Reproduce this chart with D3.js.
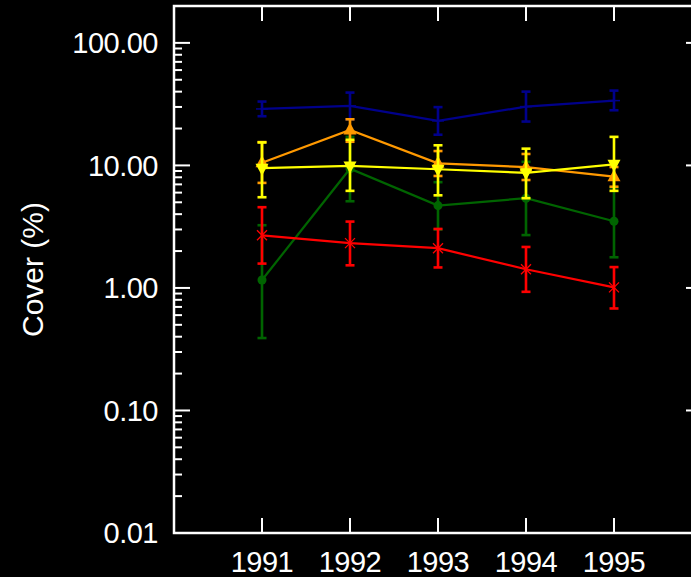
<!DOCTYPE html>
<html><head><meta charset="utf-8">
<script src="https://cdn.jsdelivr.net/npm/d3@7"></script>
<style>html,body{margin:0;padding:0;background:#000;overflow:hidden}svg{display:block}</style>
</head><body>
<script>
const years = [1991, 1992, 1993, 1994, 1995];
const yTickValues = [100, 10, 1, 0.1, 0.01];
const yTickLabels = ["100.00", "10.00", "1.00", "0.10", "0.01"];
const yLabel = "Cover (%)";

const blueMean = [28.9, 30.6, 23.1, 30.2, 33.8];
const blueLow  = [25.2, 23.8, 17.8, 22.8, 28.2];
const blueHigh = [33.2, 39.3, 29.9, 40.0, 40.8];

const greenMean = [1.16, 9.4, 4.7, 5.4, 3.5];
const greenLow  = [0.39, 5.1, 3.0, 2.7, 1.78];
const greenHigh = [3.25, 17.1, 7.3, 10.7, 6.6];

const redMean = [2.69, 2.32, 2.11, 1.42, 1.01];
const redLow  = [1.58, 1.53, 1.47, 0.93, 0.68];
const redHigh = [4.56, 3.48, 3.03, 2.16, 1.48];

const orangeMean = [10.5, 19.5, 10.4, 9.7, 8.1];
const orangeLow  = [7.2, 15.6, 8.2, 7.6, 6.7];
const orangeHigh = [15.5, 23.8, 13.1, 12.4, 9.7];

const yellowMean = [9.5, 9.9, 9.3, 8.7, 10.2];
const yellowLow  = [5.5, 6.2, 5.7, 5.4, 6.2];
const yellowHigh = [15.4, 16.2, 14.6, 13.7, 17.1];

const series = [
  {color: "#00008B", marker: "plus",     mean: blueMean,   low: blueLow,   high: blueHigh},
  {color: "#006400", marker: "circle",   mean: greenMean,  low: greenLow,  high: greenHigh},
  {color: "#FF0000", marker: "asterisk", mean: redMean,    low: redLow,    high: redHigh},
  {color: "#FF9900", marker: "triUp",    mean: orangeMean, low: orangeLow, high: orangeHigh},
  {color: "#FFFF00", marker: "triDown",  mean: yellowMean, low: yellowLow, high: yellowHigh}
];

(function () {
const W = 691, H = 577;
const pL = 174, pR = 702, pT = 6, pB = 533;
const svg = d3.select("body").append("svg").attr("width", W).attr("height", H)
  .style("background", "#000");

const x = d3.scaleLinear().domain([1990, 1996]).range([pL, pR]);
const y = d3.scaleLog().domain([0.01, 200]).range([pB, pT]);

const axisColor = "#fff";
const font = "'Liberation Sans', Arial, Helvetica, sans-serif";

svg.append("rect").attr("x", pL).attr("y", pT).attr("width", pR - pL).attr("height", pB - pT)
  .attr("fill", "none").attr("stroke", axisColor).attr("stroke-width", 2.5);

const minor = [];
for (let e = -2; e <= 2; e++) for (let m = 2; m <= 9; m++) { const v = m * Math.pow(10, e); if (v <= 200) minor.push(v); }
const g = svg.append("g").attr("stroke", axisColor).attr("stroke-width", 2);
minor.forEach(v => {
  g.append("line").attr("x1", pL).attr("x2", pL + 8).attr("y1", y(v)).attr("y2", y(v));
  g.append("line").attr("x1", pR).attr("x2", pR - 8).attr("y1", y(v)).attr("y2", y(v));
});
yTickValues.forEach(v => {
  g.append("line").attr("x1", pL).attr("x2", pL + 16).attr("y1", y(v)).attr("y2", y(v));
  g.append("line").attr("x1", pR).attr("x2", pR - 16).attr("y1", y(v)).attr("y2", y(v));
});
years.forEach(v => {
  g.append("line").attr("x1", x(v)).attr("x2", x(v)).attr("y1", pB).attr("y2", pB - 15);
  g.append("line").attr("x1", x(v)).attr("x2", x(v)).attr("y1", pT).attr("y2", pT + 15);
});

yTickValues.forEach((v, i) => {
  svg.append("text").attr("x", 158).attr("y", y(v)).attr("dy", "0.36em")
    .attr("text-anchor", "end").attr("fill", "#fff").attr("font-family", font).attr("font-size", 29)
    .attr("letter-spacing", "-0.5px").text(yTickLabels[i]);
});
years.forEach(v => {
  svg.append("text").attr("x", x(v)).attr("y", 571.5)
    .attr("text-anchor", "middle").attr("fill", "#fff").attr("font-family", font).attr("font-size", 29)
    .attr("letter-spacing", "-0.5px").text(String(v));
});
svg.append("text").attr("transform", `translate(43,${(pT + pB) / 2}) rotate(-90)`)
  .attr("text-anchor", "middle").attr("fill", "#fff").attr("font-family", font).attr("font-size", 30)
  .text(yLabel);

const line = d3.line().x(d => x(d[0])).y(d => y(d[1]));
series.forEach(s => {
  const gs = svg.append("g");
  const pts = years.map((yr, i) => [yr, s.mean[i]]);
  gs.append("path").attr("d", line(pts)).attr("fill", "none").attr("stroke", s.color).attr("stroke-width", 2.2);
  years.forEach((yr, i) => {
    const cx = x(yr);
    gs.append("line").attr("x1", cx).attr("x2", cx).attr("y1", y(s.low[i])).attr("y2", y(s.high[i]))
      .attr("stroke", s.color).attr("stroke-width", 2.6);
    [s.low[i], s.high[i]].forEach(v => {
      gs.append("line").attr("x1", cx - 4.5).attr("x2", cx + 4.5).attr("y1", y(v)).attr("y2", y(v))
        .attr("stroke", s.color).attr("stroke-width", 2.6);
    });
    const cy = y(s.mean[i]);
    if (s.marker === "circle") {
      gs.append("circle").attr("cx", cx).attr("cy", cy).attr("r", 4.5).attr("fill", s.color);
    } else if (s.marker === "plus") {
      gs.append("line").attr("x1", cx - 6).attr("x2", cx + 6).attr("y1", cy).attr("y2", cy).attr("stroke", s.color).attr("stroke-width", 1.5);
    } else if (s.marker === "asterisk") {
      const r = 5;
      gs.append("path").attr("d", `M${cx - r},${cy - r}L${cx + r},${cy + r}M${cx - r},${cy + r}L${cx + r},${cy - r}M${cx},${cy - r}L${cx},${cy + r}`)
        .attr("stroke", s.color).attr("stroke-width", 1.3).attr("fill", "none");
    } else if (s.marker === "triUp") {
      gs.append("path").attr("d", `M${cx},${cy - 7.5}L${cx + 6.5},${cy + 4.5}L${cx - 6.5},${cy + 4.5}Z`).attr("fill", s.color);
    } else if (s.marker === "triDown") {
      gs.append("path").attr("d", `M${cx},${cy + 7.5}L${cx + 6.5},${cy - 4.5}L${cx - 6.5},${cy - 4.5}Z`).attr("fill", s.color);
    }
  });
});
})();
</script>
</body></html>
